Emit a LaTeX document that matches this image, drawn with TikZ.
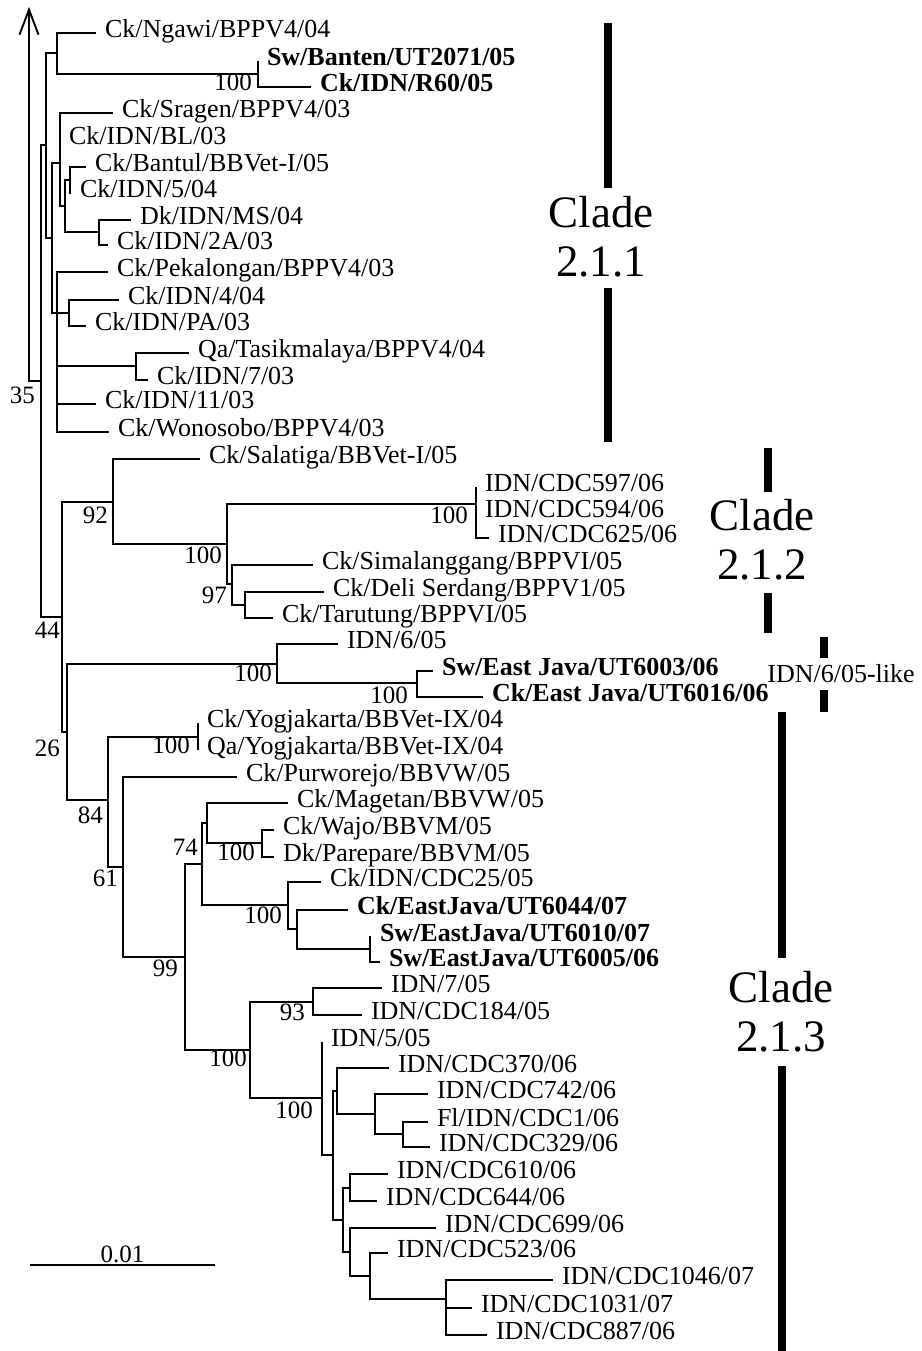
\documentclass[tikz,border=0pt]{standalone}
\usepackage{fontspec}
\setmainfont{Liberation Serif}
\usetikzlibrary{arrows.meta}

\begin{document}
\begin{tikzpicture}[
    x=1pt, y=-1pt,
    branch/.style={line width=1.9pt},
    leaf/.style={anchor=west, inner xsep=0pt, outer xsep=9pt, inner ysep=0pt, text height=1.1em, text depth=0.2em, font=\fontsize{26}{30}\selectfont},
    bleaf/.style={leaf, font=\fontsize{26}{30}\selectfont\bfseries},
    boot/.style={anchor=east, inner sep=0pt, text height=0.7em, text depth=0pt, font=\fontsize{25}{30}\selectfont},
    clade/.style={align=center, inner sep=0pt, font=\fontsize{45}{49}\selectfont},
    bar/.style={line width=8pt}
]
\useasboundingbox (0,0) rectangle (921,1351);

% Internal nodes
\coordinate (root) at (41,381);
\coordinate (outgroup) at (29,7);
\coordinate (c211) at (46,145);
\coordinate (ngawiN) at (57,53);
\coordinate (bantenN) at (258,74);
\coordinate (javaN) at (52,238);
\coordinate (sragenN) at (60,163);
\coordinate (bantulMS) at (65,206);
\coordinate (bantulN) at (70,180);
\coordinate (msN) at (99,232);
\coordinate (pekaN) at (57,313);
\coordinate (idn4N) at (69,313);
\coordinate (tasikN) at (136,366);
\coordinate (n44) at (62,617);
\coordinate (c212) at (113,502);
\coordinate (sumN) at (227,544);
\coordinate (cdcN) at (476,504);
\coordinate (simN) at (232,584);
\coordinate (deliN) at (245,605);
\coordinate (n26) at (67,732);
\coordinate (like605) at (277,664);
\coordinate (ejavaN) at (417,683);
\coordinate (n84) at (108,800);
\coordinate (yogN) at (198,737);
\coordinate (n61) at (123,867);
\coordinate (n99) at (185,957);
\coordinate (n74) at (202,864);
\coordinate (magN) at (207,823);
\coordinate (wajoN) at (262,843);
\coordinate (cdc25N) at (288,905);
\coordinate (ut6044N) at (297,929);
\coordinate (ut6010N) at (370,949);
\coordinate (bigN) at (250,1050);
\coordinate (n93) at (313,1002);
\coordinate (idn5N) at (322,1098);
\coordinate (cdcA) at (333,1155);
\coordinate (cdc370N) at (337,1091);
\coordinate (cdc742N) at (375,1114);
\coordinate (flN) at (403,1134);
\coordinate (cdcB) at (343,1220);
\coordinate (cdc610N) at (350,1188);
\coordinate (cdc699N) at (350,1252);
\coordinate (cdc523N) at (370,1276);
\coordinate (cdc1046N) at (446,1299);

% Leaves, clade 2.1.1
\node[leaf] (ngawi) at (96,33) {Ck/Ngawi/BPPV4/04};
\node[bleaf] (banten) at (258,61) {Sw/Banten/UT2071/05};
\node[bleaf] (r60) at (311,87) {Ck/IDN/R60/05};
\node[leaf] (sragen) at (113,113) {Ck/Sragen/BPPV4/03};
\node[leaf] (bl) at (60,140) {Ck/IDN/BL/03};
\node[leaf] (bantul) at (86,167) {Ck/Bantul/BBVet-I/05};
\node[leaf] (idn504) at (71,193) {Ck/IDN/5/04};
\node[leaf] (ms) at (131,220) {Dk/IDN/MS/04};
\node[leaf] (idn2a) at (108,245) {Ck/IDN/2A/03};
\node[leaf] (pekalongan) at (108,272) {Ck/Pekalongan/BPPV4/03};
\node[leaf] (idn404) at (119,300) {Ck/IDN/4/04};
\node[leaf] (pa) at (86,326) {Ck/IDN/PA/03};
\node[leaf] (tasik) at (189,353) {Qa/Tasikmalaya/BPPV4/04};
\node[leaf] (idn703) at (148,380) {Ck/IDN/7/03};
\node[leaf] (idn1103) at (96,404) {Ck/IDN/11/03};
\node[leaf] (wonosobo) at (109,432) {Ck/Wonosobo/BPPV4/03};

% Leaves, clade 2.1.2 and IDN/6/05-like
\node[leaf] (salatiga) at (200,459) {Ck/Salatiga/BBVet-I/05};
\node[leaf] (cdc597) at (476,487) {IDN/CDC597/06};
\node[leaf] (cdc594) at (476,513) {IDN/CDC594/06};
\node[leaf] (cdc625) at (489,538) {IDN/CDC625/06};
\node[leaf] (simal) at (313,565) {Ck/Simalanggang/BPPVI/05};
\node[leaf] (deli) at (324,592) {Ck/Deli Serdang/BPPV1/05};
\node[leaf] (tarutung) at (273,618) {Ck/Tarutung/BPPVI/05};
\node[leaf] (idn605) at (338,644) {IDN/6/05};
\node[bleaf] (ut6003) at (433,671) {Sw/East Java/UT6003/06};
\node[bleaf] (ut6016) at (483,697) {Ck/East Java/UT6016/06};

% Leaves, clade 2.1.3
\node[leaf] (yogck) at (198,723) {Ck/Yogjakarta/BBVet-IX/04};
\node[leaf] (yogqa) at (198,750) {Qa/Yogjakarta/BBVet-IX/04};
\node[leaf] (purworejo) at (237,777) {Ck/Purworejo/BBVW/05};
\node[leaf] (magetan) at (288,803) {Ck/Magetan/BBVW/05};
\node[leaf] (wajo) at (274,830) {Ck/Wajo/BBVM/05};
\node[leaf] (parepare) at (274,857) {Dk/Parepare/BBVM/05};
\node[leaf] (cdc25) at (321,882) {Ck/IDN/CDC25/05};
\node[bleaf] (ut6044) at (348,910) {Ck/EastJava/UT6044/07};
\node[bleaf] (ut6010) at (371,937) {Sw/EastJava/UT6010/07};
\node[bleaf] (ut6005) at (380,962) {Sw/EastJava/UT6005/06};
\node[leaf] (idn705) at (382,988) {IDN/7/05};
\node[leaf] (cdc184) at (362,1015) {IDN/CDC184/05};
\node[leaf] (idn505) at (322,1042) {IDN/5/05};
\node[leaf] (cdc370) at (389,1068) {IDN/CDC370/06};
\node[leaf] (cdc742) at (428,1094) {IDN/CDC742/06};
\node[leaf] (fl) at (428,1122) {Fl/IDN/CDC1/06};
\node[leaf] (cdc329) at (430,1147) {IDN/CDC329/06};
\node[leaf] (cdc610) at (388,1174) {IDN/CDC610/06};
\node[leaf] (cdc644) at (377,1201) {IDN/CDC644/06};
\node[leaf] (cdc699) at (436,1228) {IDN/CDC699/06};
\node[leaf] (cdc523) at (388,1253) {IDN/CDC523/06};
\node[leaf] (cdc1046) at (553,1280) {IDN/CDC1046/07};
\node[leaf] (cdc1031) at (472,1308) {IDN/CDC1031/07};
\node[leaf] (cdc887) at (487,1335) {IDN/CDC887/06};

% Branches
\draw[branch, -{Straight Barb[length=25pt, width=19pt]}] (root) -| (outgroup);
\draw[branch] (root) |- (c211) (root) |- (n44);
\draw[branch] (c211) |- (ngawiN) (c211) |- (javaN);
\draw[branch] (ngawiN) |- (ngawi) (ngawiN) |- (bantenN);
\draw[branch] (bantenN) |- (banten) (bantenN) |- (r60);
\draw[branch] (javaN) |- (sragenN) (javaN) |- (pekaN);
\draw[branch] (sragenN) |- (sragen) (sragenN) |- (bl) (sragenN) |- (bantulMS);
\draw[branch] (bantulMS) |- (bantulN) (bantulMS) |- (msN);
\draw[branch] (bantulN) |- (bantul) (bantulN) |- (idn504);
\draw[branch] (msN) |- (ms) (msN) |- (idn2a);
\draw[branch] (pekaN) |- (pekalongan) (pekaN) |- (idn4N) (pekaN) |- (tasikN)
    (pekaN) |- (idn1103) (pekaN) |- (wonosobo);
\draw[branch] (idn4N) |- (idn404) (idn4N) |- (pa);
\draw[branch] (tasikN) |- (tasik) (tasikN) |- (idn703);

\draw[branch] (n44) |- (c212) (n44) |- (n26);
\draw[branch] (c212) |- (salatiga) (c212) |- (sumN);
\draw[branch] (sumN) |- (cdcN) (sumN) |- (simN);
\draw[branch] (cdcN) |- (cdc597) (cdcN) |- (cdc594) (cdcN) |- (cdc625);
\draw[branch] (simN) |- (simal) (simN) |- (deliN);
\draw[branch] (deliN) |- (deli) (deliN) |- (tarutung);

\draw[branch] (n26) |- (like605) (n26) |- (n84);
\draw[branch] (like605) |- (idn605) (like605) |- (ejavaN);
\draw[branch] (ejavaN) |- (ut6003) (ejavaN) |- (ut6016);

\draw[branch] (n84) |- (yogN) (n84) |- (n61);
\draw[branch] (yogN) |- (yogck) (yogN) |- (yogqa);
\draw[branch] (n61) |- (purworejo) (n61) |- (n99);
\draw[branch] (n99) |- (n74) (n99) |- (bigN);
\draw[branch] (n74) |- (magN) (n74) |- (cdc25N);
\draw[branch] (magN) |- (magetan) (magN) |- (wajoN);
\draw[branch] (wajoN) |- (wajo) (wajoN) |- (parepare);
\draw[branch] (cdc25N) |- (cdc25) (cdc25N) |- (ut6044N);
\draw[branch] (ut6044N) |- (ut6044) (ut6044N) |- (ut6010N);
\draw[branch] (ut6010N) |- (ut6010) (ut6010N) |- (ut6005);
\draw[branch] (bigN) |- (n93) (bigN) |- (idn5N);
\draw[branch] (n93) |- (idn705) (n93) |- (cdc184);
\draw[branch] (idn5N) |- (idn505) (idn5N) |- (cdcA);
\draw[branch] (cdcA) |- (cdc370N) (cdcA) |- (cdcB);
\draw[branch] (cdc370N) |- (cdc370) (cdc370N) |- (cdc742N);
\draw[branch] (cdc742N) |- (cdc742) (cdc742N) |- (flN);
\draw[branch] (flN) |- (fl) (flN) |- (cdc329);
\draw[branch] (cdcB) |- (cdc610N) (cdcB) |- (cdc699N);
\draw[branch] (cdc610N) |- (cdc610) (cdc610N) |- (cdc644);
\draw[branch] (cdc699N) |- (cdc699) (cdc699N) |- (cdc523N);
\draw[branch] (cdc523N) |- (cdc523) (cdc523N) |- (cdc1046N);
\draw[branch] (cdc1046N) |- (cdc1046) (cdc1046N) |- (cdc1031) (cdc1046N) |- (cdc887);

% Bootstrap values
\node[boot] (b35) at (35,400) {35};
\node[boot] (bBanten) at (252,87) {100};
\node[boot] (b92) at (108,520) {92};
\node[boot] (bSum) at (222,560) {100};
\node[boot] (bCdc) at (468,520) {100};
\node[boot] (b97) at (227,600) {97};
\node[boot] (b44) at (60,635) {44};
\node[boot] (bLike) at (272,678) {100};
\node[boot] (bEjava) at (408,700) {100};
\node[boot] (b26) at (60,753) {26};
\node[boot] (bYog) at (190,750) {100};
\node[boot] (b84) at (103,820) {84};
\node[boot] (b61) at (118,883) {61};
\node[boot] (b74) at (198,852) {74};
\node[boot] (bWajo) at (255,857) {100};
\node[boot] (bCdc25) at (282,920) {100};
\node[boot] (b99) at (178,973) {99};
\node[boot] (bBig) at (247,1063) {100};
\node[boot] (b93) at (305,1017) {93};
\node[boot] (bIdn5) at (313,1115) {100};

% Clade bars
\node[clade] (lab211) at (601,237) {Clade\\2.1.1};
\draw[bar] (608,23) -- (608,188) (608,288) -- (608,442);
\node[clade] (lab212) at (762,540) {Clade\\2.1.2};
\draw[bar] (768,448) -- (768,492) (768,593) -- (768,633);
\node[leaf, anchor=center, outer xsep=0pt] (lab605) at (841,678) {IDN/6/05-like};
\draw[bar] (824,637) -- (824,658) (824,690) -- (824,712);
\node[clade] (lab213) at (781,1012) {Clade\\2.1.3};
\draw[bar] (782,712) -- (782,958) (782,1066) -- (782,1351);

% Scale bar
\coordinate (sbL) at (30,1265);
\coordinate (sbR) at (215,1265);
\draw[branch] (sbL) -- node[boot, anchor=south, yshift=2pt] (scale) {0.01} (sbR);

\end{tikzpicture}
\end{document}
